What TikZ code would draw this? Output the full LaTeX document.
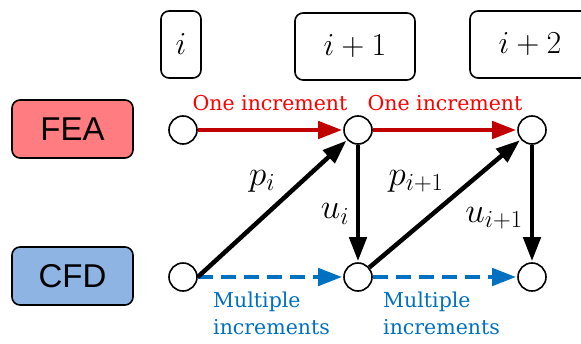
\documentclass[tikz,border=0pt]{standalone}
\usepackage{fix-cm}
\usepackage{fontspec}
\newfontfamily\notefont{DejaVu Serif}
\newfontfamily\solverfont{Liberation Sans}
\usetikzlibrary{arrows.meta}
\definecolor{feared}{HTML}{FF7C80}
\definecolor{cfdblue}{HTML}{8EB4E3}
\definecolor{arrowred}{HTML}{C00000}
\definecolor{arrowblue}{HTML}{0070C0}
\begin{document}
\begin{tikzpicture}[x=1pt,y=-1pt,
    stepbox/.style={draw,line width=1.6pt,rounded corners=8pt,minimum height=67pt,
      inner sep=0pt,font=\fontsize{32}{32}\selectfont},
    solver/.style={draw,line width=1.6pt,rounded corners=8pt,minimum width=121pt,
      minimum height=58pt,font=\fontsize{33}{33}\selectfont\solverfont},
    state/.style={circle,draw,line width=1.6pt,fill=white,minimum size=28pt,inner sep=0pt},
    increment/.style={font=\fontsize{20.5}{27}\selectfont\notefont},
    transfer/.style={font=\fontsize{35}{35}\selectfont,inner sep=0pt},
    tip/.style={-{Triangle[length=24pt,width=17pt]}},
    link/.style={tip,line width=4.5pt,shorten >=1pt}]
  \useasboundingbox (0,0) rectangle (581,343);
  \clip (0,0) rectangle (581,343);

  % increment counters
  \node[stepbox,minimum width=40pt] (step0) at (181,44.5) {$i$};
  \node[stepbox,minimum width=120pt] (step1) at (355,46.5) {$i+1$};
  \node[stepbox,minimum width=120pt] (step2) at (530,44.5) {$i+2$};

  % solvers
  \node[solver,fill=feared] (fea) at (72.5,129) {FEA};
  \node[solver,fill=cfdblue] (cfd) at (72.5,276) {CFD};

  % states
  \node[state] (fea0) at (183,130) {};
  \node[state] (fea1) at (358,130) {};
  \node[state] (fea2) at (532,130) {};
  \node[state] (cfd0) at (183,277) {};
  \node[state] (cfd1) at (358,277) {};
  \node[state] (cfd2) at (532,277) {};

  % time stepping
  \draw[link,arrowred] (fea0) -- (fea1);
  \draw[link,arrowred] (fea1) -- (fea2);
  \draw[link,arrowblue,dash pattern=on 15pt off 8pt] (cfd0) -- (cfd1);
  \draw[link,arrowblue,dash pattern=on 15pt off 8pt] (cfd1) -- (cfd2);

  % data exchange
  \draw[link] (cfd0.east) -- (fea1);
  \draw[link] (fea1) -- (cfd1);
  \draw[link] (cfd1) -- (fea2);
  \draw[link] (fea2) -- (cfd2);

  \node[increment,text=red,anchor=base] (one0) at (270,110) {One increment};
  \node[increment,text=red,anchor=base] (one1) at (445,110) {One increment};
  \node[increment,text=arrowblue,align=left,anchor=north west,inner sep=0pt]
    (many0) at (213,292) {Multiple\\increments};
  \node[increment,text=arrowblue,align=left,anchor=north west,inner sep=0pt]
    (many1) at (383,292) {Multiple\\increments};

  \node[transfer] (p0) at (262,181) {$p_i$};
  \node[transfer] (u0) at (335,214) {$u_i$};
  \node[transfer] (p1) at (416,181) {$p_{i+1}$};
  \node[transfer] (u1) at (494,218) {$u_{i+1}$};
\end{tikzpicture}
\end{document}
